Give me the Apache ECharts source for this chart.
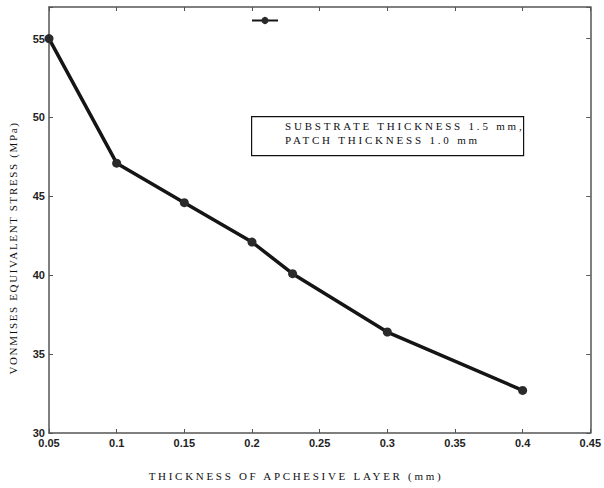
<!DOCTYPE html>
<html><head><meta charset="utf-8">
<script src="https://cdn.jsdelivr.net/npm/echarts@6/dist/echarts.min.js"></script>
<style>
html,body{margin:0;padding:0;background:#fff}#c{width:604px;height:488px}
#c text[fill="#101011"]{letter-spacing:2.7px}
#c text[fill="#101012"]{letter-spacing:1.65px}
#c text[fill="#101013"]{letter-spacing:2.8px}
</style>
</head><body><div id="c"></div>
<script>
var thickness = [0.05, 0.1, 0.15, 0.2, 0.23, 0.3, 0.4];
var stress = [55.0, 47.1, 44.6, 42.1, 40.1, 36.4, 32.7];
var xTitle = 'THICKNESS OF APCHESIVE LAYER (mm)';
var yTitle = 'VONMISES EQUIVALENT STRESS (MPa)';
var noteLines = ['SUBSTRATE THICKNESS 1.5 mm,', 'PATCH THICKNESS 1.0 mm'];

var chart = echarts.init(document.getElementById('c'), null, {renderer: 'svg'});
var frame = {show: true, lineStyle: {color: '#555', width: 1.5}};
var lblFont = {color: '#222', fontFamily: 'Liberation Sans', fontWeight: 'bold', fontSize: 11};
chart.setOption({
  animation: false,
  backgroundColor: '#fff',
  grid: {left: 49, right: 12, top: 7, bottom: 55, show: false},
  legend: {
    left: 246, top: 11, itemWidth: 26, itemHeight: 9, itemGap: 0,
    data: [' '], formatter: function(){return '';},
    textStyle: {fontSize: 1}
  },
  xAxis: [{
    type: 'value', min: 0.05, max: 0.45, interval: 0.05, position: 'bottom',
    axisLine: frame, splitLine: {show: false},
    axisTick: {show: true, inside: true, length: 4, lineStyle: {color: '#555'}},
    axisLabel: Object.assign({margin: 4, formatter: function(v){return String(+v.toFixed(2));}}, lblFont)
  }, {
    type: 'value', min: 0.05, max: 0.45, interval: 0.05, position: 'top',
    axisLine: frame, splitLine: {show: false},
    axisTick: {show: true, inside: true, length: 4, lineStyle: {color: '#555'}},
    axisLabel: {show: false}
  }],
  yAxis: [{
    type: 'value', min: 30, max: 57, interval: 5, position: 'left',
    axisLine: frame, splitLine: {show: false},
    axisTick: {show: true, inside: true, length: 4, lineStyle: {color: '#555'}},
    axisLabel: Object.assign({margin: 4, formatter: function(v){return v % 5 === 0 ? String(v) : '';}}, lblFont)
  }, {
    type: 'value', min: 30, max: 57, interval: 5, position: 'right',
    axisLine: frame, splitLine: {show: false},
    axisTick: {show: true, inside: true, length: 4, lineStyle: {color: '#555'}},
    axisLabel: {show: false}
  }],
  series: [{
    name: ' ', type: 'line', xAxisIndex: 0, yAxisIndex: 0,
    data: thickness.map(function(x, i){return [x, stress[i]];}),
    symbol: 'circle', symbolSize: 9,
    lineStyle: {color: '#151515', width: 3.5},
    itemStyle: {color: '#2a2a2a'}
  }],
  graphic: [
    {type: 'rect', left: 251, top: 116, shape: {width: 272, height: 39},
     style: {fill: '#fff', stroke: '#111', lineWidth: 1.2}},
    {type: 'text', x: 285, y: 126, style: {text: noteLines[0], font: '11px "Liberation Serif"', fill: '#101013', verticalAlign: 'middle'}},
    {type: 'text', x: 285, y: 139.5, style: {text: noteLines[1], font: '11px "Liberation Serif"', fill: '#101013', verticalAlign: 'middle'}},
    {type: 'text', x: 296, y: 476, style: {text: xTitle, font: '11px "Liberation Serif"', fill: '#101011', align: 'center', verticalAlign: 'middle'}},
    {type: 'text', x: 13, y: 248, rotation: Math.PI/2, style: {text: yTitle, font: '11px "Liberation Serif"', fill: '#101012', align: 'center', verticalAlign: 'middle'}}
  ]
});
</script></body></html>
